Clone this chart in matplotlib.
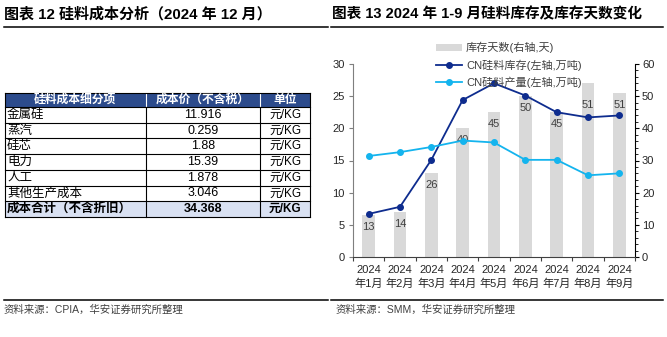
import numpy as np
import matplotlib
matplotlib.use("Agg")
import matplotlib.pyplot as plt
from matplotlib.patches import Rectangle
from matplotlib.ticker import MultipleLocator, FixedLocator

plt.rcParams['font.family'] = ['Liberation Sans', 'Noto Sans CJK SC']

# ---- data: cost table ----
table_headers = ['硅料成本细分项', '成本价（不含税）', '单位']
cost_items = ['金属硅', '蒸汽', '硅芯', '电力', '人工', '其他生产成本', '成本合计（不含折旧）']
cost_values = ['11.916', '0.259', '1.88', '15.39', '1.878', '3.046', '34.368']
cost_unit = '元/KG'

# ---- data: inventory chart ----
months = ['2024\n年1月', '2024\n年2月', '2024\n年3月', '2024\n年4月', '2024\n年5月',
          '2024\n年6月', '2024\n年7月', '2024\n年8月', '2024\n年9月']
inventory_days = [13, 14, 26, 40, 45, 50, 45, 54, 51]          # bar heights as drawn
inventory_days_text = ['13', '14', '26', '40', '45', '50', '45', '51', '51']  # printed labels
inventory = [6.7, 7.8, 15.1, 24.4, 27.0, 25.1, 22.5, 21.7, 22.0]
output = [15.7, 16.3, 17.1, 18.1, 17.8, 15.1, 15.1, 12.7, 13.0]

DARK = '#0E2C8E'
LIGHT = '#14B4EE'
BAR = '#D9D9D9'
HEAD = '#2C4B8C'
TOTAL = '#D9E1F2'

W, H = 667, 337
fig = plt.figure(figsize=(W / 100, H / 100), dpi=100)

# background layer in pixel coordinates for titles, rules and the table
bg = fig.add_axes([0, 0, 1, 1])
bg.set_xlim(0, W)
bg.set_ylim(H, 0)
bg.axis('off')

bg.text(4, 14, '图表 12 硅料成本分析（2024 年 12 月）', fontsize=10.8,
        fontweight='bold', va='center', ha='left')
bg.text(332, 14, '图表 13 2024 年 1-9 月硅料库存及库存天数变化', fontsize=10.5,
        fontweight='bold', va='center', ha='left')
for x0, x1 in [(4, 328), (331, 663)]:
    bg.plot([x0, x1], [27, 27], color='black', lw=1.1)
    bg.plot([x0, x1], [300, 300], color='black', lw=1.1)

src_kw = dict(fontsize=7.5, color='#404040', va='center', ha='left')
bg.text(4, 310, '资料来源：CPIA，华安证券研究所整理', **src_kw)
bg.text(336, 310, '资料来源：SMM，华安证券研究所整理', **src_kw)

# ---- table ----
col_x = [5, 145.5, 260, 310]
top = 92.5
head_h = 14.5
row_h = 15.7
n = len(cost_items)
bottom = top + head_h + n * row_h

bg.add_patch(Rectangle((col_x[0], top), col_x[-1] - col_x[0], head_h,
                       facecolor=HEAD, edgecolor='none'))
bg.add_patch(Rectangle((col_x[0], top + head_h + (n - 1) * row_h), col_x[-1] - col_x[0],
                       row_h, facecolor=TOTAL, edgecolor='none'))
for i, h in enumerate(table_headers):
    bg.text((col_x[i] + col_x[i + 1]) / 2, top + head_h / 2, h, color='white',
            fontsize=8.5, fontweight='bold', ha='center', va='center')
for xc in col_x[1:-1]:
    bg.plot([xc, xc], [top, top + head_h], color='white', lw=0.8)
    bg.plot([xc, xc], [top + head_h, bottom], color='black', lw=0.8)
for r in range(n + 1):
    y = top + head_h + r * row_h
    bg.plot([col_x[0], col_x[-1]], [y, y], color='black', lw=0.8)
bg.plot([col_x[0], col_x[-1]], [top, top], color='black', lw=0.8)
for xc in (col_x[0], col_x[-1]):
    bg.plot([xc, xc], [top, bottom], color='black', lw=0.8)

for r in range(n):
    yc = top + head_h + (r + 0.5) * row_h
    wt = 'bold' if r == n - 1 else 'normal'
    bg.text(col_x[0] + 2, yc, cost_items[r], fontsize=9, fontweight=wt, ha='left', va='center')
    bg.text((col_x[1] + col_x[2]) / 2, yc, cost_values[r], fontsize=9, fontweight=wt,
            ha='center', va='center')
    bg.text((col_x[2] + col_x[3]) / 2, yc, cost_unit, fontsize=8.5, fontweight=wt,
            ha='center', va='center')

# ---- chart ----
ax = fig.add_axes([353 / W, 1 - 257 / H, 282 / W, 193 / H])
ax2 = ax.twinx()
x = np.arange(len(months))

bars = ax2.bar(x, inventory_days, width=0.4, color=BAR, label='库存天数(右轴,天)')
for xi, t in zip(x, inventory_days_text):
    ax2.annotate(t, (xi, float(t)), xytext=(0, -8.6), textcoords='offset points',
                 ha='center', va='center', fontsize=8, color='#404040')

l1, = ax.plot(x, inventory, color=DARK, lw=1.3, marker='o', ms=4,
              label='CN硅料库存(左轴,万吨)')
l2, = ax.plot(x, output, color=LIGHT, lw=1.3, marker='o', ms=4,
              label='CN硅料产量(左轴,万吨)')

ax.set_zorder(ax2.get_zorder() + 1)
ax.patch.set_visible(False)

ax.set_xlim(-0.5, len(months) - 0.5)
ax.set_ylim(0, 30)
ax2.set_ylim(0, 60)
ax.yaxis.set_major_locator(MultipleLocator(5))
ax2.yaxis.set_major_locator(MultipleLocator(10))
ax2.yaxis.set_minor_locator(MultipleLocator(2))

ax.set_xticks(x)
ax.set_xticklabels(months, linespacing=1.35)
ax.xaxis.set_minor_locator(FixedLocator(np.arange(-0.5, len(months), 1)))
ax.tick_params(axis='x', which='major', length=0, pad=6, labelsize=8, labelcolor='#262626')
ax.tick_params(axis='x', which='minor', length=3, width=0.8, color='#404040')
ax.tick_params(axis='y', length=3, width=0.8, color='#7F7F7F', pad=3,
               labelsize=8, labelcolor='#262626')
ax2.tick_params(axis='y', which='major', length=3, width=0.8, color='black', pad=2,
                labelsize=8, labelcolor='#262626')
ax2.tick_params(axis='y', which='minor', length=2, width=0.6, color='black')

for s in ('top', 'right'):
    ax.spines[s].set_visible(False)
for s in ('top', 'left', 'bottom'):
    ax2.spines[s].set_visible(False)
ax.spines['left'].set_color('#7F7F7F')
ax.spines['bottom'].set_color('#404040')
ax2.spines['right'].set_color('black')

leg = ax.legend([bars, l1, l2], [bars.get_label(), l1.get_label(), l2.get_label()],
                loc='upper left', bbox_to_anchor=(436 / W, 1 - 42 / H),
                bbox_transform=fig.transFigure, frameon=False, fontsize=8,
                handlelength=2.3, handletextpad=0.4, labelspacing=0.55,
                borderpad=0, borderaxespad=0)
for t in leg.get_texts():
    t.set_color('#404040')

fig.savefig('out.png', dpi=100)
